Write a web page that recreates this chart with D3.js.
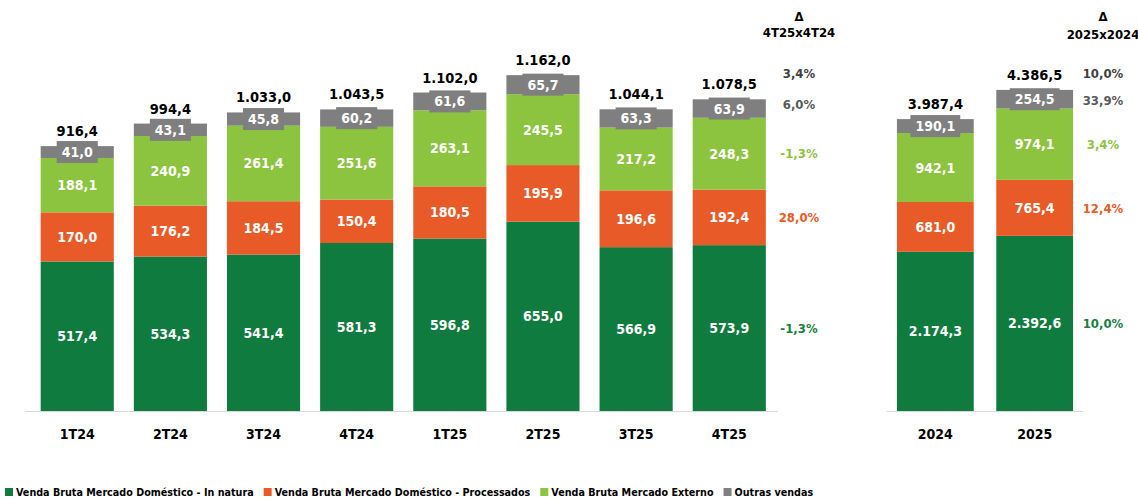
<!DOCTYPE html>
<html>
<head>
<meta charset="utf-8">
<script src="https://cdn.jsdelivr.net/npm/d3@7"></script>
<style>
  body { margin: 0; background: #fff; }
  svg { display: block; font-family: "Liberation Sans Narrow", "DejaVu Sans Condensed", "Open Sans", sans-serif; }
</style>
</head>
<body>
<svg></svg>
<script>
// quarters
var quarters = ["1T24", "2T24", "3T24", "4T24", "1T25", "2T25", "3T25", "4T25"];
var qInNatura    = [517.4, 534.3, 541.4, 581.3, 596.8, 655.0, 566.9, 573.9];
var qProcessados = [170.0, 176.2, 184.5, 150.4, 180.5, 195.9, 196.6, 192.4];
var qExterno     = [188.1, 240.9, 261.4, 251.6, 263.1, 245.5, 217.2, 248.3];
var qOutras      = [41.0, 43.1, 45.8, 60.2, 61.6, 65.7, 63.3, 63.9];
var qTotal       = [916.4, 994.4, 1033.0, 1043.5, 1102.0, 1162.0, 1044.1, 1078.5];

// years
var years = ["2024", "2025"];
var yInNatura    = [2174.3, 2392.6];
var yProcessados = [681.0, 765.4];
var yExterno     = [942.1, 974.1];
var yOutras      = [190.1, 254.5];
var yTotal       = [3987.4, 4386.5];

// variations (total, outras, externo, processados, in natura)
var deltaQ = ["3,4%", "6,0%", "-1,3%", "28,0%", "-1,3%"];
var deltaY = ["10,0%", "33,9%", "3,4%", "12,4%", "10,0%"];

var seriesNames = ["Venda Bruta Mercado Doméstico - In natura",
    "Venda Bruta Mercado Doméstico - Processados",
    "Venda Bruta Mercado Externo", "Outras vendas"];
var colors = ["#107b3f", "#e85b28", "#8cc43f", "#7f7f7f"];
var deltaColors = ["#404040", "#595959", "#8cc43f", "#e85b28", "#1a7d42"];

var W = 1138, H = 501;
var svg = d3.select("svg").attr("width", W).attr("height", H);

function fmt(v) {
    // 1.078,5 style
    var s = v.toFixed(1).split(".");
    var intPart = s[0].replace(/\B(?=(\d{3})+(?!\d))/g, ".");
    return intPart + "," + s[1];
}

var baseY = 411;

function drawPanel(cats, cols, totals, deltas, opts) {
    var x = d3.scaleBand().domain(cats).range(opts.xr).paddingInner(opts.pad).paddingOuter(opts.padOut);
    var y = d3.scaleLinear().domain([0, opts.ymax]).range([baseY, baseY - opts.ypx]);

    var g = svg.append("g");

    // baseline
    g.append("line")
        .attr("x1", opts.axis[0]).attr("x2", opts.axis[1])
        .attr("y1", baseY + 0.5).attr("y2", baseY + 0.5)
        .attr("stroke", "#d9d9d9").attr("stroke-width", 1);

    var stack = cats.map(function (c, i) {
        var y0 = 0;
        return cols.map(function (arr, k) {
            var seg = { cat: c, k: k, v: arr[i], y0: y0, y1: y0 + arr[i] };
            y0 += arr[i];
            return seg;
        });
    });

    stack.forEach(function (segs, i) {
        var bx = x(cats[i]);
        var bw = x.bandwidth();
        segs.forEach(function (s) {
            g.append("rect")
                .attr("x", bx).attr("width", bw)
                .attr("y", y(s.y1)).attr("height", y(s.y0) - y(s.y1))
                .attr("fill", colors[s.k]);
        });
        segs.forEach(function (s) {
            var cy = (y(s.y0) + y(s.y1)) / 2;
            var cx = bx + bw / 2;
            var t = g.append("text")
                .attr("x", cx).attr("y", cy).attr("dy", "0.36em")
                .attr("text-anchor", "middle")
                .attr("fill", "#fff").attr("font-weight", "bold")
                .attr("font-size", 14)
                .text(fmt(s.v));
            if (s.k === 3) {
                var tw = t.node().getComputedTextLength();
                g.insert("rect", function () { return t.node(); })
                    .attr("x", cx - tw / 2 - 5).attr("width", tw + 10)
                    .attr("y", cy - 11).attr("height", 22)
                    .attr("fill", colors[3]);
            }
        });
        g.append("text")
            .attr("x", bx + bw / 2).attr("y", y(totals[i]) - 10)
            .attr("text-anchor", "middle")
            .attr("fill", "#000").attr("font-weight", "bold")
            .attr("font-size", 14.5)
            .text(fmt(totals[i]));
        g.append("text")
            .attr("x", bx + bw / 2).attr("y", 439)
            .attr("text-anchor", "middle")
            .attr("fill", "#000").attr("font-weight", "bold")
            .attr("font-size", 14)
            .text(cats[i]);
    });

    // delta column, aligned to last bar segments
    var last = stack[stack.length - 1];
    var dx = opts.dx;
    var ys = [73];
    [3, 2, 1, 0].forEach(function (k) {
        ys.push((y(last[k].y0) + y(last[k].y1)) / 2);
    });
    deltas.forEach(function (d, i) {
        g.append("text")
            .attr("x", dx).attr("y", ys[i] + (i === 1 ? opts.grayShift : 0)).attr("dy", "0.36em")
            .attr("text-anchor", "middle")
            .attr("fill", deltaColors[i]).attr("font-weight", "bold")
            .attr("font-size", 13)
            .text(d);
    });
    g.append("text").attr("x", dx).attr("y", 21)
        .attr("text-anchor", "middle").attr("font-weight", "bold").attr("font-size", 13)
        .attr("fill", "#000").text("Δ");
    g.append("text").attr("x", dx).attr("y", opts.hy)
        .attr("text-anchor", "middle").attr("font-weight", "bold").attr("font-size", 13)
        .attr("fill", "#000").text(opts.header);
}

drawPanel(quarters, [qInNatura, qProcessados, qExterno, qOutras], qTotal, deltaQ, {
    xr: [29.5, 777], pad: 0.215, padOut: 0.12, ymax: 1000, ypx: 289,
    axis: [25, 778], dx: 799, header: "4T25x4T24", hy: 37, grayShift: -4
});

drawPanel(years, [yInNatura, yProcessados, yExterno, yOutras], yTotal, deltaY, {
    xr: [887, 1083], pad: 0.227, padOut: 0.1, ymax: 1000, ypx: 73.2,
    axis: [887, 1083], dx: 1103, header: "2025x2024", hy: 39, grayShift: 1
});

// legend
var lg = svg.append("g").attr("transform", "translate(5,496)");
var lx = 0;
seriesNames.forEach(function (n, i) {
    lg.append("rect").attr("x", lx).attr("y", -8).attr("width", 8).attr("height", 8).attr("fill", colors[i]);
    var t = lg.append("text").attr("x", lx + 11).attr("y", 0)
        .attr("font-size", 10.7).attr("font-weight", "bold").attr("fill", "#000")
        .text(n);
    lx += 11 + t.node().getComputedTextLength() + 10;
});
</script>
</body>
</html>
